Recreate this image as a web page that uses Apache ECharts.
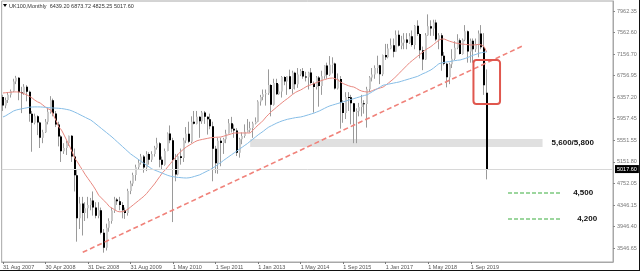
<!DOCTYPE html>
<html><head><meta charset="utf-8">
<script src="https://cdn.jsdelivr.net/npm/echarts@6/dist/echarts.min.js"></script>
<style>html,body{margin:0;padding:0;background:#fff}#c{width:640px;height:271px}</style>
</head><body><div id="c"></div>
<script>
// ---- data ----
const headerText = 'UK100,Monthly  6439.20 6873.72 4825.25 5017.60';
const tickLabels = ['31 Aug 2007','30 Apr 2008','31 Dec 2008','31 Aug 2009','1 May 2010','1 Sep 2011','1 Jan 2013','1 May 2014','1 Sep 2015','1 Jan 2017','1 May 2018','1 Sep 2019'];
const priceTicks = [7962.35,7562.60,7156.70,6756.95,6357.20,5957.45,5551.55,5151.80,4752.05,4346.15,3946.40,3546.65];
const yMin = 3286, yMax = 8149, nCats = 230, tickEvery = 16;
const lastPrice = 5017.60;
// candles: [open, high, low, close]
const candles = [
[6360,6400,6100,6200],[6200,6350,6150,6303],[6303,6450,6250,6400],[6400,6500,6350,6467],[6467,6700,6450,6650],[6650,6754,6600,6721],
[6721,6731,6300,6450],[6450,6550,6060,6432],[6432,6600,6400,6550],[6550,6580,6280,6457],[6457,6480,5900,6050],[6050,6100,5340,5880],
[5880,6050,5850,6000],[6000,6020,5650,5884],[5884,5900,5410,5600],[5600,5750,5500,5702],[5702,5950,5690,5900],[5900,6140,5850,6087],
[6087,6376,6050,6300],[6300,6330,6000,6053],[6053,6100,5800,5850],[5850,5900,5440,5626],[5626,5650,5150,5350],[5350,5500,5300,5412],
[5412,5550,5280,5500],[5500,5640,5450,5636],[5636,5650,5150,5250],[5250,5400,4600,4902],[4902,5000,3665,4100],[4100,4500,3900,4377],
[4377,4500,3780,4200],[4200,4400,4050,4288],[4288,4500,4100,4350],[4350,4480,4250,4434],[4434,4600,4150,4300],[4300,4400,4100,4150],
[4150,4400,4100,4250],[4250,4300,3800,3830],[3830,3900,3460,3550],[3550,4000,3500,3926],[3926,4100,3850,4050],[4050,4300,4000,4244],
[4244,4500,4200,4450],[4450,4480,4350,4418],[4418,4500,4250,4350],[4350,4400,4100,4249],[4249,4300,4090,4200],[4200,4650,4150,4608],
[4608,4800,4550,4750],[4750,4950,4700,4909],[4909,5100,4800,5050],[5050,5200,5000,5134],[5134,5300,5100,5250],[5250,5280,4950,5045],
[5045,5350,4980,5300],[5300,5330,5100,5190],[5190,5350,5150,5300],[5300,5450,5250,5413],[5413,5600,5380,5500],[5500,5520,5050,5189],
[5189,5250,5000,5100],[5100,5400,5080,5355],[5355,5700,5350,5680],[5680,5830,5500,5553],[5553,5600,4030,5188],[5188,5300,4790,4917],
[4917,5300,4900,5258],[5258,5400,5100,5225],[5225,5600,5150,5549],[5549,5800,5500,5675],[5675,5900,5500,5528],[5528,6000,5500,5900],
[5900,6100,5850,5863],[5863,6100,5850,5994],[5994,6000,5600,5909],[5909,6100,5860,6070],[6070,6100,5860,5990],[5990,6000,5660,5945],
[5945,6050,5760,5815],[5815,5900,4790,5395],[5395,5450,4940,5128],[5128,5600,4930,5544],[5544,5600,5070,5505],[5505,5600,5300,5572],
[5572,5750,5500,5681],[5681,5950,5680,5872],[5872,5990,5700,5768],[5768,5850,5600,5738],[5738,5780,5260,5321],[5321,5600,5230,5571],
[5571,5700,5480,5635],[5635,5850,5600,5711],[5711,5950,5700,5742],[5742,5900,5700,5782],[5782,5900,5600,5866],[5866,5980,5850,5898],
[5898,6300,5890,6276],[6276,6400,6200,6361],[6361,6500,6300,6412],[6412,6500,6200,6430],[6430,6875,6400,6583],[6583,6600,6000,6215],
[6215,6700,6200,6621],[6621,6700,6400,6412],[6412,6600,6400,6462],[6462,6750,6350,6731],[6731,6750,6580,6650],[6650,6750,6400,6749],
[6749,6870,6500,6510],[6510,6850,6420,6810],[6810,6830,6500,6598],[6598,6900,6530,6780],[6780,6880,6750,6845],[6845,6900,6700,6744],
[6744,6830,6650,6730],[6730,6830,6500,6819],[6819,6900,6600,6623],[6623,6650,6070,6546],[6546,6750,6500,6723],[6723,6750,6180,6566],
[6566,6850,6400,6749],[6749,6950,6700,6946],[6946,7000,6700,6773],[6773,7123,6750,6960],[6960,7100,6800,6984],[6984,7000,6500,6521],
[6521,6800,6500,6696],[6696,6750,5770,6248],[6248,6300,5880,6062],[6062,6450,5950,6361],[6361,6450,6100,6356],[6356,6400,5850,6242],
[6242,6250,5500,6084],[6084,6150,5500,6097],[6097,6250,6000,6175],[6175,6400,6000,6242],[6242,6300,6050,6231],[6231,6550,5790,6504],
[6504,6750,6450,6724],[6724,6900,6650,6781],[6781,6950,6700,6899],[6899,7130,6800,6954],[6954,6960,6600,6784],[6784,7150,6750,7142],
[7142,7350,7050,7099],[7099,7350,7080,7263],[7263,7450,7250,7323],[7323,7450,7100,7204],[7204,7600,7200,7520],[7520,7600,7300,7313],
[7313,7500,7250,7372],[7372,7550,7250,7431],[7431,7550,7250,7373],[7373,7550,7350,7493],[7493,7600,7300,7327],[7327,7700,7250,7688],
[7688,7790,7500,7534],[7534,7550,7080,7232],[7232,7300,6860,7057],[7057,7550,7050,7509],[7509,7900,7500,7678],[7678,7790,7500,7637],
[7637,7800,7500,7749],[7749,7800,7400,7432],[7432,7550,7250,7510],[7510,7550,6850,7128],[7128,7200,6950,6980],[6980,7000,6540,6728],
[6728,7000,6600,6969],[6969,7250,6900,7075],[7075,7400,7050,7279],[7279,7530,7250,7418],[7418,7450,7150,7162],[7162,7450,7150,7426],
[7426,7700,7400,7587],[7587,7600,7000,7207],[7207,7450,7000,7408],[7408,7450,7000,7248],[7248,7450,7200,7347],[7347,7600,7100,7542],
[7542,7700,7250,7286],[7286,7550,6400,6580],[6439.20,6873.72,4825.25,5017.60]
];
const maRed = [
6435,6440,6445,6450,6455,6455,6453,6440,6420,6400,6370,6340,6300,6270,6248,6210,6170,6140,6118,6020,
5920,5800,5745,5650,5550,5450,5340,5220,5150,5070,4990,4910,4840,4770,4700,4620,4530,4480,4430,4380,
4320,4290,4260,4230,4220,4225,4240,4270,4310,4350,4390,4430,4470,4510,4560,4620,4680,4740,4810,4880,
4950,5000,5060,5120,5180,5240,5300,5350,5390,5430,5460,5490,5520,5545,5559,5570,5580,5590,5600,5605,
5610,5612,5615,5630,5645,5660,5675,5690,5690,5690,5690,5690,5690,5690,5740,5790,5839,5880,5930,5990,
6040,6090,6130,6174,6215,6255,6295,6330,6370,6410,6445,6470,6491,6520,6550,6575,6590,6610,6630,6650,
6670,6685,6700,6710,6714,6700,6680,6640,6610,6590,6570,6555,6546,6520,6490,6470,6460,6453,6460,6480,
6500,6515,6530,6546,6580,6620,6660,6700,6750,6800,6850,6900,6950,7000,7040,7080,7120,7160,7200,7240,
7270,7300,7340,7380,7420,7440,7440,7420,7400,7385,7370,7360,7350,7345,7340,7335,7330,7330,7335,7340,
7330,7300,7199
];
const maBlue = [
5988,6010,6040,6070,6100,6118,6130,6140,6150,6160,6170,6174,6176,6176,6175,6172,6168,6163,6158,6155,
6153,6150,6145,6138,6128,6118,6100,6078,6055,6030,6005,5980,5955,5932,5895,5855,5815,5775,5735,5695,
5655,5615,5570,5525,5480,5435,5390,5345,5300,5265,5230,5195,5160,5125,5090,5055,5020,5000,4980,4960,
4940,4920,4900,4885,4875,4868,4862,4857,4853,4851,4855,4865,4880,4895,4910,4935,4960,4985,5010,5040,
5070,5110,5140,5180,5215,5250,5285,5320,5355,5390,5425,5460,5495,5535,5575,5615,5655,5690,5725,5765,
5800,5825,5850,5875,5895,5915,5930,5945,5955,5965,5975,5982,5988,6000,6015,6030,6045,6060,6080,6100,
6125,6150,6175,6195,6210,6225,6240,6255,6270,6285,6300,6315,6330,6345,6360,6375,6390,6400,6430,6460,
6490,6520,6550,6580,6590,6600,6610,6620,6630,6640,6655,6670,6685,6700,6715,6730,6745,6770,6795,6815,
6840,6865,6900,6940,6980,6995,7005,7015,7020,7030,7038,7045,7050,7065,7080,7100,7120,7140,7155,7175,
7185,7195,7199
];
// drawings (category index, price)
const zoneBand = [[93, 5580], [203, 5430]];
const zoneLabel = '5,600/5,800';
const targetLines = [[190, 210, 4572], [190, 210, 4087]];
const targetLabels = ['4,500', '4,200'];
const trendLine = [[30, 3466], [196, 7323]];
const alertBox = [[177, 7049], [187, 6230]];

// ---- chart ----
const cats = candles.map((_, i) => 'b' + i);
while (cats.length < nCats) cats.push('e' + cats.length);
const showTick = (i) => i % tickEvery === 0 && (i / tickEvery) < tickLabels.length;
const FONT = 'Liberation Sans';

const chart = echarts.init(document.getElementById('c'), null, {renderer: 'canvas'});
const option = {
  animation: false,
  textStyle: {fontFamily: FONT},
  grid: {left: 0, right: 27, top: 1, bottom: 9, show: true, borderColor: '#a8a8a8', borderWidth: 1},
  xAxis: {
    type: 'category', data: cats, boundaryGap: true,
    axisLine: {show: true, lineStyle: {color: '#a8a8a8'}},
    axisTick: {show: true, interval: (i) => showTick(i), alignWithLabel: true, length: 2, lineStyle: {color: '#777'}},
    axisLabel: {interval: (i) => showTick(i), formatter: (v, idx) => tickLabels[idx / tickEvery] || '',
      align: 'left', fontSize: 5.5, color: '#555', margin: 2, fontFamily: FONT}
  },
  yAxis: {
    type: 'value', position: 'right', min: yMin, max: yMax,
    axisLine: {show: true, lineStyle: {color: '#a8a8a8'}},
    axisTick: {show: true, customValues: priceTicks, length: 2, lineStyle: {color: '#888'}},
    axisLabel: {customValues: priceTicks, formatter: (v) => v.toFixed(2), fontSize: 5.5, color: '#777', margin: 4, fontFamily: FONT},
    splitLine: {show: false}
  },
  series: [
    {
      type: 'line', name: 'zone', data: [], z: 1, silent: true,
      markArea: {silent: true, itemStyle: {color: '#e0e0e0'},
        label: {show: true, position: 'right', distance: 9, formatter: zoneLabel, color: '#111', fontWeight: 'bold', fontSize: 8, fontFamily: FONT},
        data: [[{coord: zoneBand[0]}, {coord: zoneBand[1]}]]},
      markLine: {silent: true, symbol: 'none', animation: false,
        lineStyle: {color: '#d8d8d8', type: 'solid', width: 1},
        label: {position: 'end', distance: 2, formatter: lastPrice.toFixed(2), backgroundColor: '#000', color: '#fff',
          fontSize: 5.5, padding: [1, 2], fontFamily: FONT},
        data: [{yAxis: lastPrice}]}
    },
    {
      type: 'custom', name: 'UK100', z: 2, silent: true,
      data: candles.map((d, i) => [i, d[0], d[1], d[2], d[3]]),
      encode: {x: 0, y: [1, 2, 3, 4]},
      renderItem: function (params, api) {
        const i = api.value(0), o = api.value(1), h = api.value(2), l = api.value(3), c = api.value(4);
        const pO = api.coord([i, o]), pC = api.coord([i, c]), pH = api.coord([i, h]), pL = api.coord([i, l]);
        const cx = Math.round(pO[0]);
        const up = c >= o;
        const top = Math.min(pO[1], pC[1]);
        const hgt = Math.max(1, Math.abs(pO[1] - pC[1]));
        return {type: 'group', children: [
          {type: 'line', shape: {x1: cx - 0.5, y1: pH[1], x2: cx - 0.5, y2: pL[1]}, style: {stroke: '#9a9a9a', lineWidth: 1}},
          {type: 'rect', shape: {x: cx - 1, y: top, width: 2, height: hgt}, style: {fill: up ? '#c9c9c9' : '#000'}}
        ]};
      }
    },
    {type: 'line', name: 'MA red', data: maRed, z: 3, showSymbol: false, silent: true,
      lineStyle: {color: '#e8877f', width: 1}},
    {type: 'line', name: 'MA blue', data: maBlue, z: 3, showSymbol: false, silent: true,
      lineStyle: {color: '#86bde6', width: 1}},
    {
      type: 'line', name: 'drawings', data: [], z: 5, silent: true,
      markLine: {silent: true, symbol: 'none', animation: false,
        data: [
          [{coord: trendLine[0], lineStyle: {color: '#f0827a', width: 1.6, type: [5, 3]}, label: {show: false}}, {coord: trendLine[1]}],
          [{coord: [targetLines[0][0], targetLines[0][2]], lineStyle: {color: '#7cc97f', width: 1.6, type: [4, 2]},
            label: {show: true, position: 'end', distance: 12, formatter: targetLabels[0], color: '#111', fontWeight: 'bold', fontSize: 8, fontFamily: FONT}},
           {coord: [targetLines[0][1], targetLines[0][2]]}],
          [{coord: [targetLines[1][0], targetLines[1][2]], lineStyle: {color: '#7cc97f', width: 1.6, type: [4, 2]},
            label: {show: true, position: 'end', distance: 16, formatter: targetLabels[1], color: '#111', fontWeight: 'bold', fontSize: 8, fontFamily: FONT}},
           {coord: [targetLines[1][1], targetLines[1][2]]}]
        ]}
    }
  ]
};
chart.setOption(option);

const p1 = chart.convertToPixel({gridIndex: 0}, alertBox[0]);
const p2 = chart.convertToPixel({gridIndex: 0}, alertBox[1]);
chart.setOption({
  graphic: [
    {type: 'rect', z: 10, silent: true,
      shape: {x: Math.min(p1[0], p2[0]), y: Math.min(p1[1], p2[1]), width: Math.abs(p2[0] - p1[0]), height: Math.abs(p2[1] - p1[1]), r: 3},
      style: {fill: 'none', stroke: '#e0574e', lineWidth: 2}},
    {type: 'polygon', z: 10, silent: true, shape: {points: [[3, 4], [7, 4], [5, 7]]}, style: {fill: '#000'}},
    {type: 'text', z: 10, silent: true, left: 9, top: 3, style: {text: headerText, fontSize: 5.5, fill: '#333', fontFamily: FONT}},
    {type: 'line', z: 20, silent: true, shape: {x1: 639.5, y1: 0, x2: 639.5, y2: 271}, style: {stroke: '#111', lineWidth: 1}},
    {type: 'line', z: 20, silent: true, shape: {x1: 0, y1: 270.5, x2: 640, y2: 270.5}, style: {stroke: '#111', lineWidth: 1}}
  ]
});
</script>
</body></html>
